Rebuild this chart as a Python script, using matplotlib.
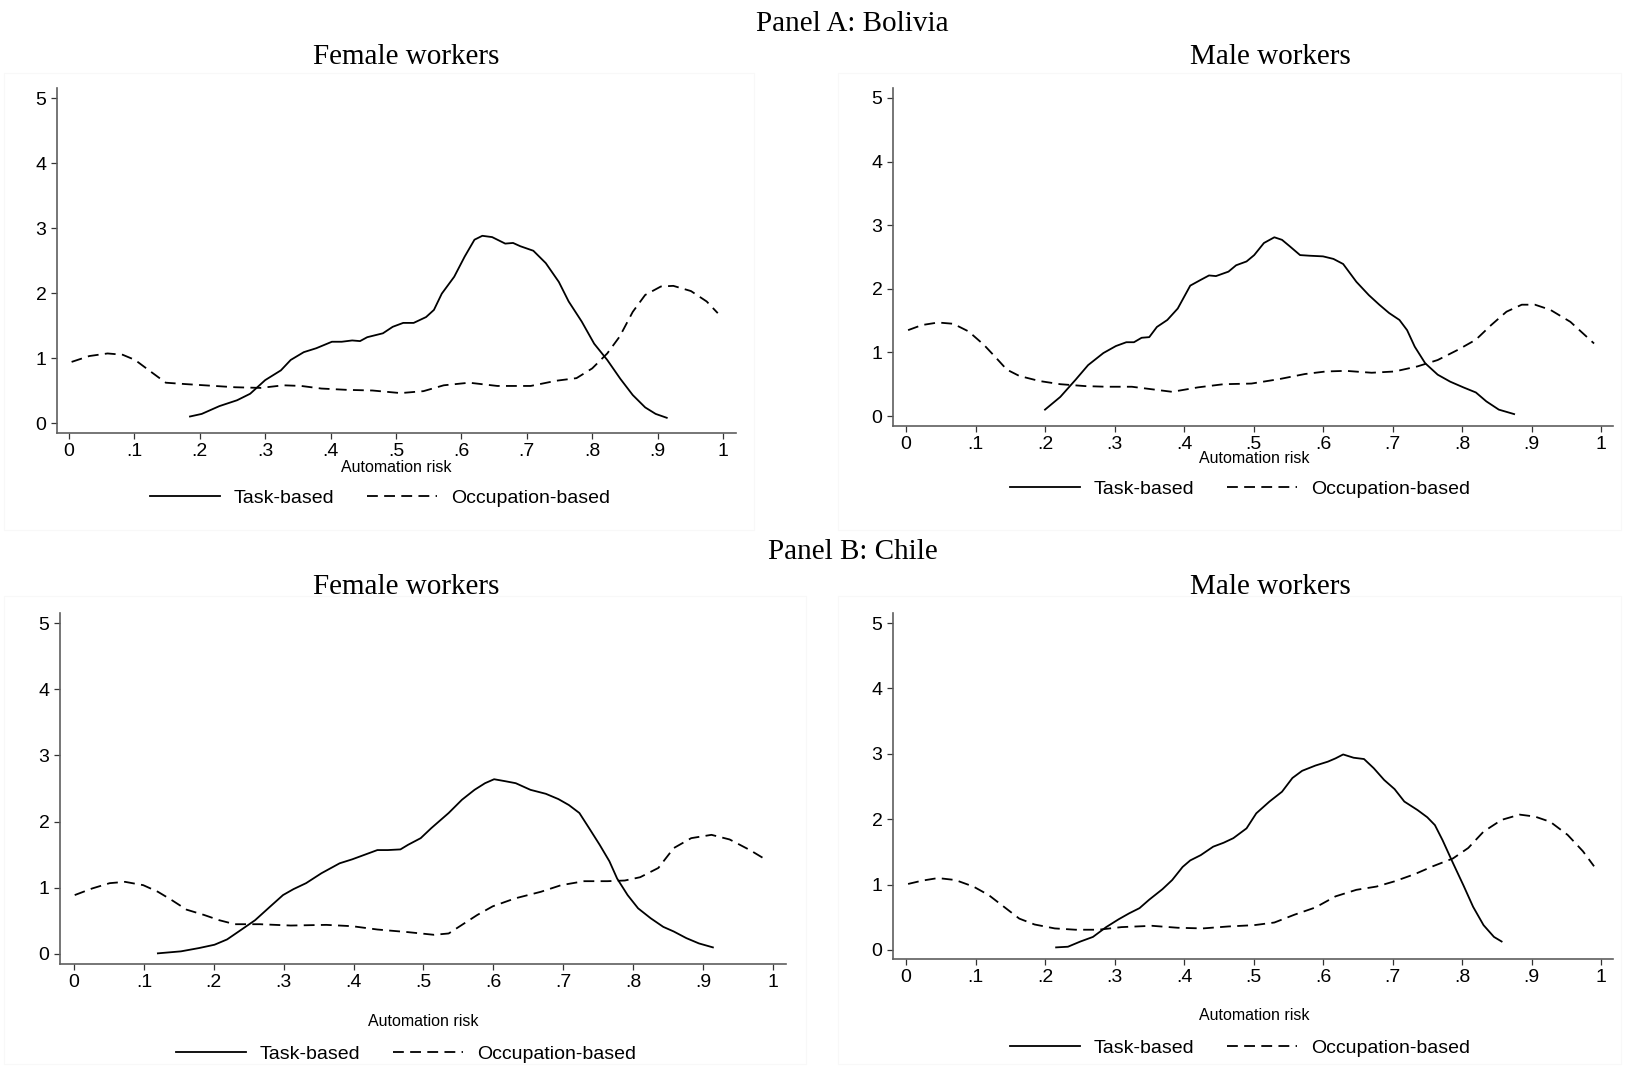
import matplotlib
matplotlib.use("Agg")
import matplotlib.pyplot as plt
from matplotlib.patches import Rectangle
import numpy as np

# ---- data (automation risk, density) ----
# Panel A: Bolivia, female
bo_f_task_x = [0.185, 0.203, 0.230, 0.257, 0.277, 0.300, 0.324, 0.339, 0.359, 0.378, 0.402, 0.417, 0.433, 0.445, 0.456,
               0.480, 0.495, 0.511, 0.527, 0.546, 0.558, 0.570, 0.589, 0.605, 0.620, 0.632, 0.647, 0.667, 0.679, 0.690,
               0.710, 0.729, 0.749, 0.764, 0.784, 0.803, 0.823, 0.843, 0.862, 0.881, 0.897, 0.914]
bo_f_task_y = [0.10, 0.14, 0.26, 0.35, 0.45, 0.66, 0.81, 0.97, 1.09, 1.15, 1.25, 1.25, 1.27, 1.26, 1.32,
               1.38, 1.48, 1.54, 1.54, 1.63, 1.74, 1.99, 2.25, 2.56, 2.82, 2.88, 2.86, 2.76, 2.77, 2.72,
               2.65, 2.46, 2.17, 1.87, 1.56, 1.22, 0.97, 0.68, 0.43, 0.24, 0.14, 0.08]
bo_f_occ_x = [0.004, 0.031, 0.059, 0.082, 0.101, 0.125, 0.148, 0.176, 0.207, 0.254, 0.293, 0.328, 0.355, 0.386,
              0.425, 0.464, 0.507, 0.542, 0.573, 0.612, 0.655, 0.706, 0.745, 0.776, 0.800, 0.823, 0.842, 0.862,
              0.881, 0.905, 0.924, 0.951, 0.975, 0.992]
bo_f_occ_y = [0.94, 1.03, 1.07, 1.05, 0.97, 0.79, 0.62, 0.60, 0.58, 0.55, 0.54, 0.58, 0.57, 0.53,
              0.51, 0.50, 0.46, 0.49, 0.58, 0.62, 0.57, 0.57, 0.65, 0.69, 0.84, 1.07, 1.33, 1.71,
              1.97, 2.10, 2.11, 2.03, 1.87, 1.69]

# Panel A: Bolivia, male
bo_m_task_x = [0.200, 0.222, 0.244, 0.262, 0.284, 0.302, 0.317, 0.328, 0.339, 0.350, 0.361, 0.376, 0.391, 0.409,
               0.424, 0.436, 0.446, 0.464, 0.475, 0.490, 0.501, 0.515, 0.530, 0.541, 0.552, 0.567, 0.581, 0.600,
               0.615, 0.629, 0.648, 0.666, 0.681, 0.695, 0.710, 0.721, 0.732, 0.747, 0.765, 0.783, 0.802, 0.820,
               0.835, 0.853, 0.875]
bo_m_task_y = [0.10, 0.30, 0.57, 0.80, 0.99, 1.10, 1.16, 1.16, 1.23, 1.24, 1.40, 1.51, 1.69, 2.05,
               2.14, 2.21, 2.20, 2.27, 2.37, 2.43, 2.53, 2.72, 2.81, 2.77, 2.67, 2.53, 2.52, 2.51,
               2.47, 2.39, 2.11, 1.90, 1.75, 1.62, 1.51, 1.35, 1.09, 0.83, 0.65, 0.54, 0.45, 0.37,
               0.23, 0.10, 0.03]
bo_m_occ_x = [0.003, 0.023, 0.046, 0.068, 0.090, 0.112, 0.130, 0.145, 0.163, 0.192, 0.222, 0.258, 0.288, 0.325,
              0.354, 0.383, 0.420, 0.457, 0.497, 0.537, 0.574, 0.604, 0.633, 0.670, 0.703, 0.736, 0.765, 0.794,
              0.820, 0.842, 0.864, 0.886, 0.905, 0.927, 0.956, 0.974, 0.990]
bo_m_occ_y = [1.35, 1.43, 1.47, 1.45, 1.33, 1.12, 0.91, 0.73, 0.63, 0.55, 0.50, 0.47, 0.46, 0.46,
              0.42, 0.38, 0.45, 0.50, 0.51, 0.58, 0.66, 0.70, 0.71, 0.68, 0.70, 0.78, 0.88, 1.04,
              1.20, 1.43, 1.64, 1.75, 1.75, 1.67, 1.48, 1.30, 1.14]

# Panel B: Chile, female
cl_f_task_x = [0.120, 0.153, 0.179, 0.201, 0.219, 0.237, 0.259, 0.281, 0.299, 0.314, 0.332, 0.354, 0.380, 0.398,
               0.416, 0.434, 0.449, 0.467, 0.478, 0.496, 0.511, 0.536, 0.555, 0.573, 0.588, 0.601, 0.617, 0.632,
               0.653, 0.675, 0.693, 0.708, 0.723, 0.737, 0.752, 0.766, 0.777, 0.792, 0.807, 0.825, 0.843, 0.858,
               0.876, 0.894, 0.914]
cl_f_task_y = [0.01, 0.04, 0.09, 0.14, 0.22, 0.35, 0.51, 0.72, 0.89, 0.98, 1.07, 1.22, 1.37, 1.43,
               1.50, 1.57, 1.57, 1.58, 1.65, 1.75, 1.90, 2.13, 2.33, 2.48, 2.58, 2.64, 2.61, 2.58,
               2.48, 2.42, 2.34, 2.25, 2.13, 1.90, 1.65, 1.40, 1.14, 0.89, 0.69, 0.54, 0.41, 0.34,
               0.24, 0.16, 0.10]
cl_f_occ_x = [0.001, 0.026, 0.051, 0.073, 0.099, 0.120, 0.139, 0.161, 0.186, 0.208, 0.230, 0.266, 0.310, 0.361,
              0.398, 0.434, 0.478, 0.515, 0.536, 0.555, 0.577, 0.599, 0.631, 0.668, 0.697, 0.730, 0.763, 0.788,
              0.810, 0.836, 0.858, 0.883, 0.912, 0.938, 0.967, 0.989]
cl_f_occ_y = [0.89, 0.99, 1.07, 1.09, 1.04, 0.94, 0.82, 0.67, 0.59, 0.51, 0.45, 0.45, 0.43, 0.44,
              0.42, 0.37, 0.33, 0.29, 0.31, 0.44, 0.59, 0.72, 0.84, 0.94, 1.04, 1.10, 1.10, 1.11,
              1.16, 1.30, 1.60, 1.75, 1.80, 1.73, 1.57, 1.43]

# Panel B: Chile, male
cl_m_task_x = [0.216, 0.233, 0.251, 0.269, 0.288, 0.306, 0.321, 0.336, 0.350, 0.369, 0.383, 0.398, 0.409, 0.424,
               0.442, 0.457, 0.471, 0.490, 0.504, 0.523, 0.541, 0.556, 0.570, 0.589, 0.607, 0.618, 0.629, 0.644,
               0.659, 0.673, 0.688, 0.703, 0.717, 0.736, 0.750, 0.761, 0.772, 0.787, 0.802, 0.816, 0.831, 0.846,
               0.857]
cl_m_task_y = [0.04, 0.05, 0.13, 0.20, 0.35, 0.47, 0.56, 0.64, 0.77, 0.93, 1.07, 1.27, 1.37, 1.45,
               1.58, 1.64, 1.71, 1.86, 2.09, 2.27, 2.42, 2.63, 2.74, 2.82, 2.88, 2.93, 2.99, 2.94,
               2.92, 2.78, 2.60, 2.46, 2.27, 2.14, 2.03, 1.91, 1.68, 1.33, 0.99, 0.66, 0.38, 0.20,
               0.13]
cl_m_occ_x = [0.003, 0.023, 0.046, 0.071, 0.097, 0.119, 0.141, 0.163, 0.185, 0.214, 0.244, 0.277, 0.310, 0.354,
              0.391, 0.427, 0.464, 0.501, 0.530, 0.559, 0.589, 0.618, 0.648, 0.677, 0.703, 0.732, 0.758, 0.787,
              0.809, 0.831, 0.857, 0.883, 0.905, 0.927, 0.952, 0.974, 0.990]
cl_m_occ_y = [1.01, 1.06, 1.10, 1.07, 0.97, 0.84, 0.66, 0.48, 0.39, 0.33, 0.31, 0.31, 0.35, 0.37,
              0.34, 0.33, 0.36, 0.38, 0.42, 0.54, 0.65, 0.82, 0.92, 0.97, 1.05, 1.16, 1.28, 1.40,
              1.56, 1.81, 1.99, 2.07, 2.04, 1.96, 1.76, 1.51, 1.28]

x_ticks = [0, .1, .2, .3, .4, .5, .6, .7, .8, .9, 1]
x_tick_labels = ["0", ".1", ".2", ".3", ".4", ".5", ".6", ".7", ".8", ".9", "1"]
y_ticks = [0, 1, 2, 3, 4, 5]
series_labels = ["Task-based", "Occupation-based"]

W, H = 1625, 1067
fig = plt.figure(figsize=(W / 100, H / 100), dpi=100)
fig.patch.set_facecolor("white")

sans = ["Liberation Sans", "Arial", "DejaVu Sans"]
serif = ["Liberation Serif", "Times New Roman", "DejaVu Serif"]

def fx(p):
    return p / W

def fy(p):
    return 1 - p / H

# faint graph-region boxes (stata style)
for (l, t, r, b) in [(4, 73, 754, 530), (838, 73, 1621, 530), (4, 596, 806, 1064), (838, 596, 1621, 1064)]:
    fig.patches.append(Rectangle((fx(l), fy(b)), fx(r - l), (b - t) / H, transform=fig.transFigure,
                                 facecolor="none", edgecolor="#f8f8f8", lw=0.8, zorder=0))

# pixel geometry of each panel: spine l, r, t, b, x0 px, x1 px, y0 px, y5 px
panels = [
    dict(geo=(57, 736, 88, 433, 69, 723, 423, 98), task=(bo_f_task_x, bo_f_task_y), occ=(bo_f_occ_x, bo_f_occ_y),
         title="Female workers", tx=406, ty=57, lab=(396, 467), leg=(380, 498)),
    dict(geo=(893, 1613, 88, 426, 906, 1601, 416, 98), task=(bo_m_task_x, bo_m_task_y), occ=(bo_m_occ_x, bo_m_occ_y),
         title="Male workers", tx=1270, ty=57, lab=(1254, 459), leg=(1240, 489)),
    dict(geo=(60, 786, 613, 964, 74, 773, 954, 623), task=(cl_f_task_x, cl_f_task_y), occ=(cl_f_occ_x, cl_f_occ_y),
         title="Female workers", tx=406, ty=587, lab=(423, 1021), leg=(406, 1054)),
    dict(geo=(893, 1613, 613, 959, 906, 1601, 950, 623), task=(cl_m_task_x, cl_m_task_y), occ=(cl_m_occ_x, cl_m_occ_y),
         title="Male workers", tx=1270, ty=587, lab=(1254, 1016), leg=(1240, 1048)),
]

for p in panels:
    sl, sr, st, sb, x0, x1, y0, y5 = p["geo"]
    ax = fig.add_axes([fx(sl), fy(sb), (sr - sl) / W, (sb - st) / H])
    ax.set_xlim((sl - x0) / (x1 - x0), (sr - x0) / (x1 - x0))
    ax.set_ylim(5 * (y0 - sb) / (y0 - y5), 5 * (y0 - st) / (y0 - y5))
    l1, = ax.plot(p["task"][0], p["task"][1], color="black", lw=1.3, solid_joinstyle="round")
    l2, = ax.plot(p["occ"][0], p["occ"][1], color="black", lw=1.3, dashes=(6, 3.5))
    for s in ["top", "right"]:
        ax.spines[s].set_visible(False)
    for s in ["left", "bottom"]:
        ax.spines[s].set_color("#5f5f5f")
        ax.spines[s].set_linewidth(1.2)
    ax.set_xticks(x_ticks)
    ax.set_xticklabels(x_tick_labels)
    ax.set_yticks(y_ticks)
    ax.tick_params(axis="both", length=4.5, width=0.9, color="#333333", labelsize=14, pad=3)
    ax.tick_params(axis="x", pad=3)
    for t in ax.get_xticklabels() + ax.get_yticklabels():
        t.set_family(sans)
    fig.text(fx(p["tx"]), fy(p["ty"]), p["title"], ha="center", va="center", fontsize=21, family=serif)
    fig.text(fx(p["lab"][0]), fy(p["lab"][1]), "Automation risk", ha="center", va="center", fontsize=11.5, family=sans)
    fig.legend([l1, l2], series_labels, loc="center", bbox_to_anchor=(fx(p["leg"][0]), fy(p["leg"][1])),
               ncol=2, frameon=False, handlelength=3.6, handletextpad=0.7, columnspacing=1.7,
               prop={"family": sans, "size": 14})

fig.text(fx(852), fy(24), "Panel A: Bolivia", ha="center", va="center", fontsize=21, family=serif)
fig.text(fx(853), fy(552), "Panel B: Chile", ha="center", va="center", fontsize=21, family=serif)

fig.savefig("out.png", dpi=100)
